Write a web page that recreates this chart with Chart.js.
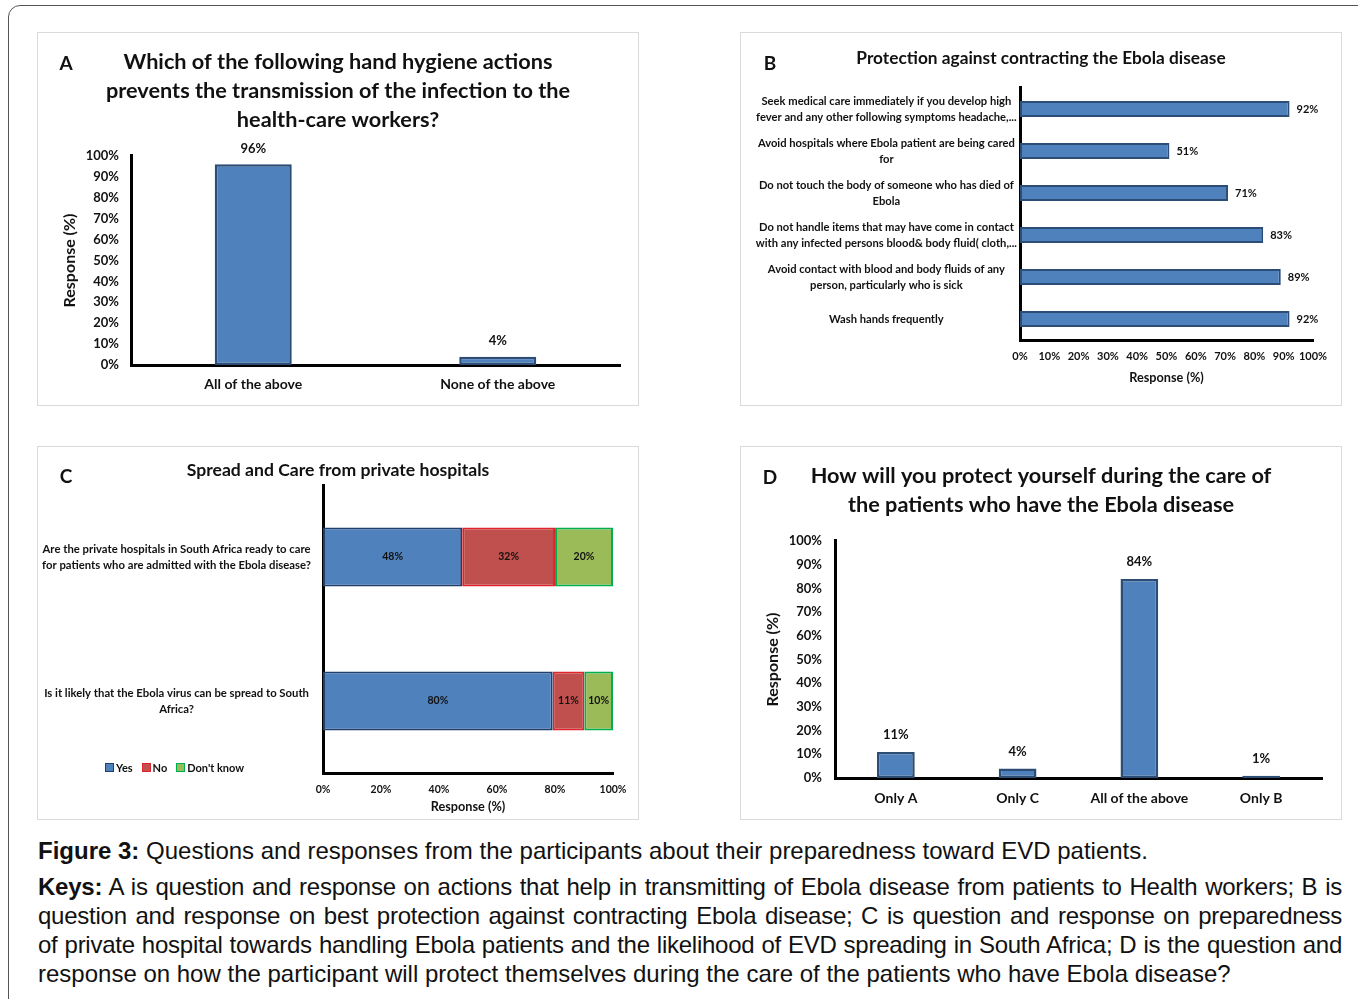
<!DOCTYPE html>
<html lang="en">
<head>
<meta charset="UTF-8">
<title>Figure 3 - Ebola preparedness</title>
<script src="https://cdn.jsdelivr.net/npm/chart.js"></script>
<style>
  html, body { margin: 0; padding: 0; background: #fff; width: 1358px; height: 999px; overflow: hidden; }
  #frame { position: absolute; left: 8px; top: 5px; width: 1400px; height: 1100px; border: 1.5px solid #555; border-radius: 12px 0 0 0; }
  .panel { position: absolute; width: 600px; height: 372px; outline: 1px solid #dadada; }
  .panel canvas { position: absolute; left: 0; top: 0; }
  .letter { position: absolute; font: bold 19px Lato, sans-serif; color: #111; transform: translate(-50%, -50%); }
  #legendC { position: absolute; left: 105px; top: 761px; font: bold 11px Lato, sans-serif; color: #111; white-space: nowrap; }
  #legendC span.sw { display: inline-block; width: 7px; height: 7px; border: 1px solid; margin-right: 2px; }
  #legendC span.it { margin-right: 9px; }
  #caption { position: absolute; left: 38px; top: 836px; width: 1304px; font: 24px "Liberation Sans", Arial, sans-serif; color: #111; }
  #caption .ln { height: 29px; line-height: 29px; letter-spacing: -0.25px; text-align: justify; text-align-last: justify; }
  #caption .first { letter-spacing: 0; text-align: left; text-align-last: left; margin-bottom: 7px; }
  #caption .last { letter-spacing: 0; text-align: left; text-align-last: left; }
</style>
</head>
<body>
<div id="frame"></div>

<div class="panel" style="left:38px; top:33px;"><canvas id="chartA" width="600" height="372"></canvas></div>
<div class="panel" style="left:741px; top:33px;"><canvas id="chartB" width="600" height="372"></canvas></div>
<div class="panel" style="left:38px; top:447px;"><canvas id="chartC" width="600" height="372"></canvas></div>
<div class="panel" style="left:741px; top:447px;"><canvas id="chartD" width="600" height="372"></canvas></div>

<div class="letter" style="left:66px; top:62px;">A</div>
<div class="letter" style="left:770px; top:62px;">B</div>
<div class="letter" style="left:66px; top:475px;">C</div>
<div class="letter" style="left:770px; top:476px;">D</div>

<div id="legendC"></div>

<div id="caption">
  <div class="ln first"><b>Figure 3:</b> Questions and responses from the participants about their preparedness toward EVD patients.</div>
  <div class="ln"><b>Keys:</b> A is question and response on actions that help in transmitting of Ebola disease from patients to Health workers; B is</div>
  <div class="ln">question and response on best protection against contracting Ebola disease; C is question and response on preparedness</div>
  <div class="ln">of private hospital towards handling Ebola patients and the likelihood of EVD spreading in South Africa; D is the question and</div>
  <div class="ln last">response on how the participant will protect themselves during the care of the patients who have Ebola disease?</div>
</div>

<script>
  // Panel A
  const aTitle = ['Which of the following hand hygiene actions', 'prevents the transmission of the infection to the', 'health-care workers?'];
  const aCategories = ['All of the above', 'None of the above'];
  const aValues = [96, 4];

  // Panel B
  const bTitle = 'Protection against contracting the Ebola disease';
  const bCategories = [
    ['Seek medical care immediately if you develop high', 'fever and any other following symptoms headache,...'],
    ['Avoid hospitals where Ebola patient are being cared', 'for'],
    ['Do not touch the body of someone who has died of', 'Ebola'],
    ['Do not handle items that may have come in contact', 'with any infected persons blood& body fluid( cloth,...'],
    ['Avoid contact with blood and body fluids of any', 'person, particularly who is sick'],
    'Wash hands frequently'
  ];
  const bValues = [92, 51, 71, 83, 89, 92];

  // Panel C
  const cTitle = 'Spread and Care from private hospitals';
  const cQuestions = [
    ['Are the private hospitals in South Africa ready to care', 'for patients who are admitted with the Ebola disease?'],
    ['Is it likely that the Ebola virus can be spread to South', 'Africa?']
  ];
  const cSeries = ['Yes', 'No', "Don't know"];
  const cYes = [48, 80];
  const cNo = [32, 11];
  const cDontKnow = [20, 10];

  // Panel D
  const dTitle = ['How will you protect yourself during the care of', 'the patients who have the Ebola disease'];
  const dCategories = ['Only A', 'Only C', 'All of the above', 'Only B'];
  const dValues = [11, 4, 84, 1];

  const blue = '#4F81BD', blueEdge = '#2C4D75';
  const red = '#C0504D', redEdge = '#E0242C';
  const green = '#9BBB59', greenEdge = '#00B050';
  const ink = '#111';

  Chart.defaults.font.family = 'Lato, sans-serif';
  Chart.defaults.color = ink;

  // draws the "xx%" labels on the bars
  const valueLabels = {
    id: 'valueLabels',
    afterDatasetsDraw(chart, args, opts) {
      const ctx = chart.ctx;
      ctx.save();
      ctx.font = opts.font;
      ctx.fillStyle = ink;
      chart.data.datasets.forEach((ds, di) => {
        chart.getDatasetMeta(di).data.forEach((bar, i) => {
          const txt = (ds.shown ? ds.shown[i] : ds.data[i]) + '%';
          if (opts.mode === 'top') {
            ctx.textAlign = 'center'; ctx.textBaseline = 'middle';
            ctx.fillText(txt, bar.x, bar.y - opts.offset);
          } else if (opts.mode === 'end') {
            ctx.textAlign = 'left'; ctx.textBaseline = 'middle';
            ctx.fillText(txt, bar.x + opts.offset, bar.y);
          } else {
            ctx.textAlign = 'center'; ctx.textBaseline = 'middle';
            ctx.fillText(txt, (bar.x + bar.base) / 2, bar.y);
          }
        });
      });
      ctx.restore();
    }
  };

  function axisLine() {
    return { display: true, color: '#000', width: 3 };
  }
  const noGrid = { display: false, drawTicks: false };
  const pct = v => v + '%';
  // empty axis on the right, only to reserve space so the title stays centred
  const spacer = w => ({
    type: 'linear', position: 'right', display: true,
    grid: noGrid, border: { display: false }, ticks: { display: false },
    afterFit: s => { s.width = w; }
  });

  // A  (equal left/right padding keeps the title centred on the panel)
  new Chart(document.getElementById('chartA'), {
    type: 'bar',
    data: {
      labels: aCategories,
      datasets: [{ data: aValues, backgroundColor: blue, borderColor: blueEdge, borderWidth: 2.5, borderSkipped: false, barPercentage: 0.315, categoryPercentage: 1 }]
    },
    options: {
      responsive: false, animation: false,
      layout: { padding: { left: 18, right: 18, top: 0, bottom: 0 } },
      plugins: {
        legend: { display: false }, tooltip: { enabled: false },
        title: { display: true, text: aTitle, color: ink, font: { size: 21.7, weight: 'bold', lineHeight: 1.336 }, padding: { top: 14.5, bottom: 21.5 } },
        valueLabels: { mode: 'top', offset: 16, font: 'bold 13px Lato' }
      },
      scales: {
        x: { grid: noGrid, border: axisLine(), ticks: { padding: 11, font: { size: 14, weight: 'bold' } }, afterFit: s => { s.height = 40; } },
        y: {
          min: 0, max: 100, grid: noGrid, border: axisLine(),
          ticks: { stepSize: 10, callback: pct, padding: 12, font: { size: 13, weight: 'bold' } },
          title: { display: true, text: 'Response (%)', font: { size: 16, weight: 'bold' }, padding: { top: 4.5, bottom: 0 } },
          afterFit: s => { s.width = 75; }
        }
      }
    },
    plugins: [valueLabels]
  });

  // B
  new Chart(document.getElementById('chartB'), {
    type: 'bar',
    data: {
      labels: bCategories,
      datasets: [{ data: bValues, backgroundColor: blue, borderColor: blueEdge, borderWidth: 2, borderSkipped: false, barPercentage: 0.38, categoryPercentage: 1 }]
    },
    options: {
      indexAxis: 'y',
      responsive: false, animation: false,
      layout: { padding: 0 },
      plugins: {
        legend: { display: false }, tooltip: { enabled: false },
        title: { display: true, text: bTitle, color: ink, font: { size: 17.3, weight: 'bold', lineHeight: 1.2 }, padding: { top: 14.6, bottom: 19.6 } },
        valueLabels: { mode: 'end', offset: 7, font: 'bold 11px Lato' }
      },
      scales: {
        x: {
          min: 0, max: 100, grid: noGrid, border: axisLine(),
          ticks: { stepSize: 10, callback: pct, padding: 10, maxRotation: 0, minRotation: 0, autoSkip: false, font: { size: 11, weight: 'bold' } },
          title: { display: true, text: 'Response (%)', font: { size: 12.7, weight: 'bold' }, padding: { top: 0, bottom: 19 } },
          afterFit: s => { s.height = 65; }
        },
        y: {
          grid: noGrid, border: axisLine(),
          ticks: { crossAlign: 'center', padding: 3, font: { size: 11.2, weight: 'bold', lineHeight: 1.43 } },
          afterFit: s => { s.width = 279; }
        },
        yPad: spacer(28)
      }
    },
    plugins: [valueLabels]
  });

  // C - 100% stacked bars, each row scaled by its own total
  const cRows = [cYes, cNo, cDontKnow];
  const cTotals = cQuestions.map((q, i) => cRows.reduce((t, r) => t + r[i], 0));
  const share = arr => arr.map((v, i) => v / cTotals[i] * 100);
  const cFill = [blue, red, green];
  const cEdge = ['#1F3F6F', redEdge, greenEdge];

  new Chart(document.getElementById('chartC'), {
    type: 'bar',
    data: {
      labels: cQuestions,
      datasets: cRows.map((r, k) => ({
        label: cSeries[k], data: share(r), shown: r,
        backgroundColor: cFill[k], borderColor: cEdge[k], borderWidth: 2, borderSkipped: false,
        barPercentage: 0.41, categoryPercentage: 1
      }))
    },
    options: {
      indexAxis: 'y',
      responsive: false, animation: false,
      layout: { padding: 0 },
      plugins: {
        legend: { display: false }, tooltip: { enabled: false },
        title: { display: true, text: cTitle, color: ink, font: { size: 17.6, weight: 'bold', lineHeight: 1.2 }, padding: { top: 12.4, bottom: 4.5 } },
        valueLabels: { mode: 'center', font: 'bold 10.5px Lato' }
      },
      scales: {
        x: {
          stacked: true, min: 0, max: 100, grid: noGrid, border: axisLine(),
          ticks: { stepSize: 20, callback: pct, padding: 10, maxRotation: 0, font: { size: 10.5, weight: 'bold' } },
          title: { display: true, text: 'Response (%)', font: { size: 12.7, weight: 'bold' }, padding: { top: 0, bottom: 4 } },
          afterFit: s => { s.height = 46; }
        },
        y: {
          stacked: true, grid: noGrid, border: axisLine(),
          ticks: { crossAlign: 'center', padding: 12, font: { size: 11.3, weight: 'bold', lineHeight: 1.4 } },
          afterFit: s => { s.width = 285; }
        },
        yPad: spacer(25)
      }
    },
    plugins: [valueLabels]
  });

  // legend for C, built from the series names
  document.getElementById('legendC').innerHTML = cSeries.map((s, k) =>
    '<span class="it"><span class="sw" style="background:' + cFill[k] + ';border-color:' + cEdge[k] + '"></span>' + s + '</span>'
  ).join('');

  // D
  new Chart(document.getElementById('chartD'), {
    type: 'bar',
    data: {
      labels: dCategories,
      datasets: [{ data: dValues, backgroundColor: blue, borderColor: blueEdge, borderWidth: 2.5, borderSkipped: false, barPercentage: 0.31, categoryPercentage: 1 }]
    },
    options: {
      responsive: false, animation: false,
      layout: { padding: { left: 19, right: 19, top: 0, bottom: 0 } },
      plugins: {
        legend: { display: false }, tooltip: { enabled: false },
        title: { display: true, text: dTitle, color: ink, font: { size: 21.7, weight: 'bold', lineHeight: 1.336 }, padding: { top: 14.5, bottom: 21.5 } },
        valueLabels: { mode: 'top', offset: 17, font: 'bold 13px Lato' }
      },
      scales: {
        x: { grid: noGrid, border: axisLine(), ticks: { padding: 11.6, font: { size: 14, weight: 'bold' } }, afterFit: s => { s.height = 41; } },
        y: {
          min: 0, max: 100, grid: noGrid, border: axisLine(),
          ticks: { stepSize: 10, callback: pct, padding: 13, font: { size: 13, weight: 'bold' } },
          title: { display: true, text: 'Response (%)', font: { size: 16, weight: 'bold' }, padding: { top: 3.5, bottom: 0 } },
          afterFit: s => { s.width = 75; }
        }
      }
    },
    plugins: [valueLabels]
  });
</script>
</body>
</html>
